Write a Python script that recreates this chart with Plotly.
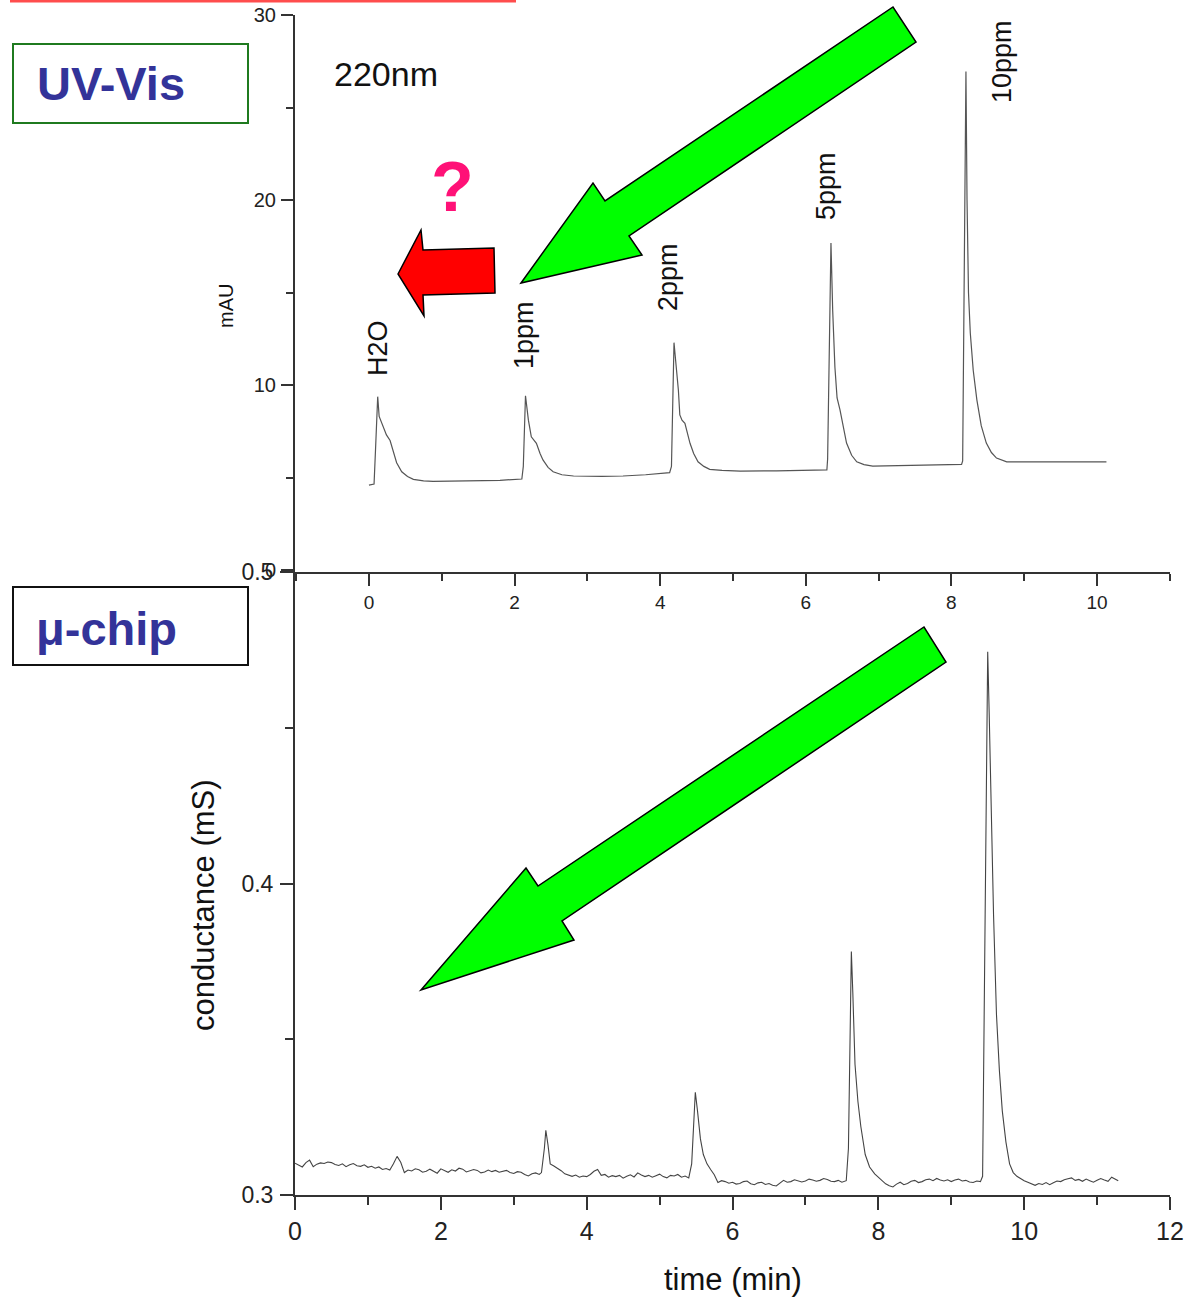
import plotly.graph_objects as go

W, H = 1192, 1298

# ---------------- data ----------------
# UV-Vis chromatogram (220 nm), time in min, absorbance in mAU
uv_time = [0.00, 0.07, 0.09, 0.12, 0.14, 0.16, 0.20, 0.24, 0.29, 0.33, 0.38, 0.45, 0.53, 0.61, 0.75,
           0.88, 1.20, 1.43, 1.80, 2.10,
           2.12, 2.15, 2.17, 2.19, 2.23, 2.30, 2.35, 2.39, 2.46, 2.53, 2.65, 2.81, 3.20, 3.49, 3.80, 4.13,
           4.155, 4.19, 4.22, 4.25, 4.27, 4.30, 4.34, 4.41, 4.46, 4.52, 4.60, 4.68, 4.85, 5.10, 5.60,
           6.00, 6.29,
           6.30, 6.33, 6.346, 6.37, 6.40, 6.43, 6.47, 6.56, 6.63, 6.70, 6.80, 6.92, 7.40, 7.80, 8.14,
           8.155, 8.175, 8.20, 8.215, 8.235, 8.26, 8.30, 8.35, 8.41, 8.48, 8.55, 8.62, 8.70, 8.76, 9.20,
           9.70, 10.13]
uv_mau = [4.59, 4.65, 6.5, 9.37, 8.3, 8.1, 7.8, 7.3, 7.0, 6.4, 5.8, 5.31, 5.05, 4.90, 4.82,
          4.79, 4.80, 4.81, 4.85, 4.92,
          5.6, 9.42, 8.6, 8.1, 7.2, 6.85, 6.3, 5.95, 5.55, 5.31, 5.15, 5.08, 5.06, 5.08, 5.15, 5.26,
          5.6, 12.29, 11.0, 9.73, 8.38, 8.1, 7.93, 6.85, 6.3, 5.85, 5.6, 5.44, 5.38, 5.35, 5.36,
          5.38, 5.41,
          6.0, 15.0, 17.68, 14.0, 10.97, 9.3, 8.65, 6.86, 6.2, 5.85, 5.7, 5.62, 5.65, 5.68, 5.71,
          5.9, 15.0, 26.94, 20.0, 15.0, 12.8, 10.8, 9.2, 7.8, 6.86, 6.35, 6.05, 5.92, 5.85, 5.84,
          5.85, 5.85]

# micro-chip conductance trace: (time in min, conductance in mS) pairs
chip_points = [
    (0.00, .3102), (0.05, .3096), (0.10, .3090), (0.15, .3104), (0.20, .3112), (0.25, .3091),
    (0.30, .3099), (0.35, .3103), (0.40, .3101), (0.45, .3106), (0.50, .3104), (0.55, .3098),
    (0.60, .3095), (0.65, .3100), (0.70, .3091), (0.75, .3097), (0.80, .3101), (0.85, .3094),
    (0.90, .3092), (0.95, .3097), (1.00, .3089), (1.05, .3092), (1.10, .3086), (1.15, .3090),
    (1.20, .3082), (1.25, .3085), (1.30, .3080), (1.35, .3100), (1.40, .3124), (1.45, .3105),
    (1.50, .3072), (1.55, .3080), (1.60, .3077), (1.65, .3084), (1.70, .3081), (1.75, .3073),
    (1.80, .3076), (1.85, .3083), (1.90, .3077), (1.95, .3070), (2.00, .3084), (2.05, .3079),
    (2.10, .3073), (2.15, .3081), (2.20, .3077), (2.25, .3086), (2.30, .3083), (2.35, .3074),
    (2.40, .3078), (2.45, .3082), (2.50, .3079), (2.55, .3071), (2.60, .3074), (2.65, .3080),
    (2.70, .3075), (2.75, .3079), (2.80, .3073), (2.85, .3077), (2.90, .3079), (2.95, .3072),
    (3.00, .3069), (3.05, .3075), (3.10, .3073), (3.15, .3066), (3.20, .3061), (3.25, .3068),
    (3.30, .3071), (3.35, .3066), (3.38, .3072), (3.42, .3150), (3.44, .3208), (3.47, .3160),
    (3.50, .3100), (3.55, .3093), (3.60, .3086), (3.65, .3078), (3.70, .3068), (3.75, .3063),
    (3.80, .3060), (3.85, .3064), (3.90, .3057), (3.95, .3061), (4.00, .3059), (4.05, .3066),
    (4.10, .3076), (4.15, .3082), (4.20, .3063), (4.25, .3066), (4.30, .3057), (4.35, .3062),
    (4.40, .3059), (4.45, .3063), (4.50, .3054), (4.55, .3060), (4.60, .3065), (4.65, .3058),
    (4.70, .3071), (4.75, .3064), (4.80, .3059), (4.85, .3063), (4.90, .3057), (4.95, .3062),
    (5.00, .3067), (5.05, .3059), (5.10, .3055), (5.15, .3063), (5.20, .3061), (5.25, .3066),
    (5.30, .3057), (5.35, .3061), (5.40, .3055), (5.44, .3100), (5.47, .3260), (5.49, .3330),
    (5.52, .3270), (5.56, .3180), (5.60, .3130), (5.65, .3100), (5.70, .3082), (5.75, .3065),
    (5.80, .3040), (5.85, .3046), (5.90, .3043), (5.95, .3038), (6.00, .3041), (6.05, .3035),
    (6.10, .3037), (6.15, .3043), (6.20, .3045), (6.25, .3036), (6.30, .3033), (6.35, .3039),
    (6.40, .3041), (6.45, .3034), (6.50, .3037), (6.55, .3031), (6.60, .3029), (6.65, .3038),
    (6.70, .3047), (6.75, .3041), (6.80, .3043), (6.85, .3049), (6.90, .3046), (6.95, .3042),
    (7.00, .3045), (7.05, .3051), (7.10, .3048), (7.15, .3044), (7.20, .3047), (7.25, .3053),
    (7.30, .3050), (7.35, .3044), (7.40, .3043), (7.45, .3047), (7.50, .3041), (7.56, .3046),
    (7.59, .3150), (7.61, .3500), (7.63, .3782), (7.65, .3650), (7.68, .3420), (7.72, .3300),
    (7.76, .3220), (7.82, .3130), (7.88, .3090), (7.95, .3068), (8.00, .3058), (8.05, .3046),
    (8.10, .3036), (8.15, .3030), (8.20, .3026), (8.25, .3035), (8.30, .3041), (8.35, .3033),
    (8.40, .3037), (8.45, .3044), (8.50, .3047), (8.55, .3040), (8.60, .3043), (8.65, .3049),
    (8.70, .3051), (8.75, .3046), (8.80, .3053), (8.85, .3048), (8.90, .3045), (8.95, .3049),
    (9.00, .3043), (9.05, .3048), (9.10, .3051), (9.15, .3045), (9.20, .3047), (9.25, .3042),
    (9.30, .3040), (9.35, .3045), (9.40, .3043), (9.43, .3060), (9.46, .3800), (9.48, .4500),
    (9.50, .4744), (9.52, .4550), (9.55, .4200), (9.58, .3900), (9.62, .3580), (9.66, .3400),
    (9.70, .3270), (9.75, .3170), (9.80, .3100), (9.85, .3072), (9.90, .3060), (9.95, .3052),
    (10.00, .3046), (10.05, .3041), (10.10, .3035), (10.15, .3031), (10.20, .3037), (10.25, .3034),
    (10.30, .3040), (10.35, .3033), (10.40, .3039), (10.45, .3045), (10.50, .3043), (10.55, .3049),
    (10.60, .3052), (10.65, .3055), (10.70, .3047), (10.75, .3050), (10.80, .3044), (10.85, .3051),
    (10.90, .3046), (10.95, .3041), (11.00, .3047), (11.05, .3053), (11.10, .3048), (11.15, .3044),
    (11.20, .3057), (11.25, .3050), (11.29, .3046),
]
chip_time = [t for t, _ in chip_points]
chip_ms = [v for _, v in chip_points]

peak_labels = ["H2O", "1ppm", "2ppm", "5ppm", "10ppm"]

top_xticks = [0, 2, 4, 6, 8, 10]
top_yticks = [0, 10, 20, 30]
bot_xticks = [0, 2, 4, 6, 8, 10, 12]
bot_yticks = [0.3, 0.4, 0.5]


# ---------------- helpers ----------------
def px(x):
    return x / W


def py(y):
    return 1 - y / H


def poly_path(pts):
    s = "M " + " L ".join(f"{px(a):.5f},{py(b):.5f}" for a, b in pts) + " Z"
    return s


FONT = "Liberation Sans, Arial, Helvetica, sans-serif"
AX = "#333333"
XD = [px(295), px(1170)]

fig = go.Figure()
fig.add_trace(go.Scatter(x=uv_time, y=uv_mau, mode="lines", xaxis="x", yaxis="y",
                         line=dict(color="#555555", width=1.2), showlegend=False, hoverinfo="skip"))
fig.add_trace(go.Scatter(x=chip_time, y=chip_ms, mode="lines", xaxis="x2", yaxis="y2",
                         line=dict(color="#444444", width=1.1), showlegend=False, hoverinfo="skip"))

common = dict(showgrid=False, zeroline=False, showline=True, linecolor=AX, linewidth=2,
              ticks="outside", tickcolor=AX, tickwidth=1.5, color="#222222", automargin=False)

fig.update_layout(
    width=W, height=H, autosize=False, margin=dict(l=0, r=0, t=0, b=0, pad=0),
    paper_bgcolor="white", plot_bgcolor="white",
    font=dict(family=FONT, color="#222222"),
    xaxis=dict(domain=XD, anchor="y", range=[-1.016, 11.003], tickvals=top_xticks,
               ticklen=12, tickfont=dict(size=19), ticklabelstandoff=0,
               minor=dict(ticks="outside", ticklen=7, dtick=1, tick0=-1, tickcolor=AX, tickwidth=1.5),
               **common),
    yaxis=dict(domain=[py(572), py(15)], anchor="x", range=[-0.108, 30], tickvals=top_yticks,
               ticklen=12, tickfont=dict(size=20), ticklabelstandoff=1,
               minor=dict(ticks="outside", ticklen=7, dtick=5, tick0=0, tickcolor=AX, tickwidth=1.5),
               **common),
    xaxis2=dict(domain=XD, anchor="y2", range=[0, 12], tickvals=bot_xticks,
                ticklen=13, tickfont=dict(size=25), ticklabelstandoff=0,
                minor=dict(ticks="outside", ticklen=8, dtick=1, tick0=0, tickcolor=AX, tickwidth=1.5),
                **common),
    yaxis2=dict(domain=[py(1195), py(572)], anchor="x2", range=[0.3, 0.5], tickvals=bot_yticks,
                ticktext=[f"{v:.1f}" for v in bot_yticks],
                ticklen=13, tickfont=dict(size=23), ticklabelstandoff=2,
                minor=dict(ticks="outside", ticklen=8, dtick=0.05, tick0=0.3, tickcolor=AX, tickwidth=1.5),
                **common),
)

# ---------------- shapes ----------------
shapes = []
# red line at very top
shapes.append(dict(type="line", xref="paper", yref="paper", x0=px(10), x1=px(516), y0=py(1), y1=py(1),
                   line=dict(color="#ff4d4d", width=3)))
# boxes
shapes.append(dict(type="rect", xref="paper", yref="paper", x0=px(13), x1=px(248), y0=py(123), y1=py(44),
                   line=dict(color="#1f7a1f", width=2), fillcolor="rgba(0,0,0,0)"))
shapes.append(dict(type="rect", xref="paper", yref="paper", x0=px(13), x1=px(248), y0=py(665), y1=py(587),
                   line=dict(color="#111111", width=2), fillcolor="rgba(0,0,0,0)"))
# green arrow (top)
shapes.append(dict(type="path", xref="paper", yref="paper",
                   path=poly_path([(521, 283), (593, 183), (605, 201), (893, 7), (916, 42), (629, 236), (642, 255)]),
                   fillcolor="#00ff00", line=dict(color="black", width=1.5)))
# green arrow (bottom)
shapes.append(dict(type="path", xref="paper", yref="paper",
                   path=poly_path([(421, 990), (526, 868), (538, 886), (924, 627), (946, 662), (562, 921), (574, 940)]),
                   fillcolor="#00ff00", line=dict(color="black", width=1.5)))
# red arrow
shapes.append(dict(type="path", xref="paper", yref="paper",
                   path=poly_path([(398, 274), (421, 230), (423, 250), (494, 248), (495, 293), (423, 295), (424, 316)]),
                   fillcolor="#ff0000", line=dict(color="black", width=1.5)))
fig.update_layout(shapes=shapes)

# ---------------- annotations ----------------
ann = []


def ptext(text, x, y, size, color="#111111", bold=False, angle=0, xanchor="center"):
    t = f"<b>{text}</b>" if bold else text
    ann.append(dict(text=t, x=px(x), y=py(y), xref="paper", yref="paper", showarrow=False,
                    xanchor=xanchor, yanchor="middle", textangle=angle,
                    font=dict(size=size, color=color, family=FONT)))


ptext("UV-Vis", 111, 84, 47, color="#333399", bold=True)
ptext("μ-chip", 106, 628, 47, color="#333399", bold=True)
ptext("220nm", 386, 74, 34)
ptext("?", 452, 187, 70, color="#ff1177", bold=True)
ptext("mAU", 226, 306, 20, angle=-90)
ptext("conductance (mS)", 203, 905, 31, angle=-90)
ptext("time (min)", 733, 1279, 31)

label_px = [(378, 348), (524, 335), (668, 277), (826, 186), (1002, 62)]
for lab, (lx, ly) in zip(peak_labels, label_px):
    ptext(lab, lx, ly, 27, angle=-90)

fig.update_layout(annotations=ann)

fig.write_html(
    "out.html",
    config={"displayModeBar": False},
    post_script="document.body.style.margin='0';document.body.style.padding='0';"
                "document.documentElement.style.overflow='hidden';document.body.style.overflow='hidden';",
)
